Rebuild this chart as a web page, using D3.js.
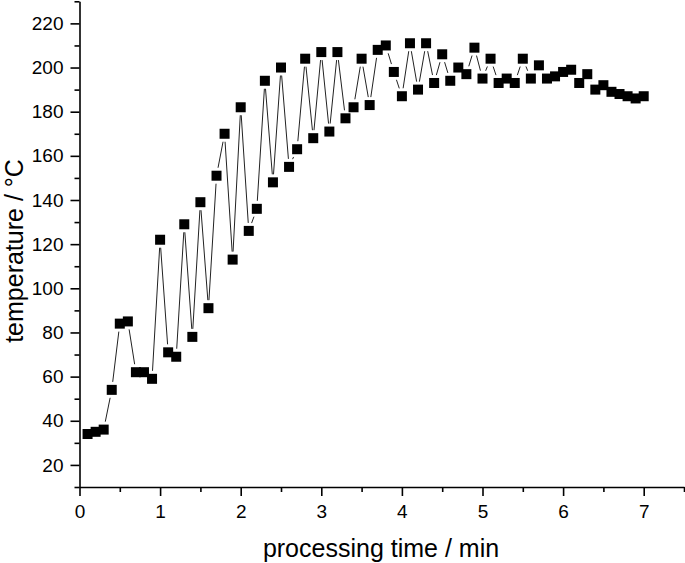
<!DOCTYPE html>
<html>
<head>
<meta charset="utf-8">
<script src="https://cdn.jsdelivr.net/npm/d3@7"></script>
<style>
  body { margin: 0; background: #fff; }
  svg { display: block; font-family: "Liberation Sans", Arial, sans-serif; }
</style>
</head>
<body>
<div id="chart"></div>
<script>
// processing time (min)
const times = [
  0.1, 0.2, 0.3, 0.4, 0.5, 0.6, 0.7, 0.8, 0.9, 1.0,
  1.1, 1.2, 1.3, 1.4, 1.5, 1.6, 1.7, 1.8, 1.9, 2.0,
  2.1, 2.2, 2.3, 2.4, 2.5, 2.6, 2.7, 2.8, 2.9, 3.0,
  3.1, 3.2, 3.3, 3.4, 3.5, 3.6, 3.7, 3.8, 3.9, 4.0,
  4.1, 4.2, 4.3, 4.4, 4.5, 4.6, 4.7, 4.8, 4.9, 5.0,
  5.1, 5.2, 5.3, 5.4, 5.5, 5.6, 5.7, 5.8, 5.9, 6.0,
  6.1, 6.2, 6.3, 6.4, 6.5, 6.6, 6.7, 6.8, 6.9, 7.0
];
// temperature (°C)
const temps = [
  34, 35, 36, 54, 84, 85, 62, 62, 59, 122,
  71, 69, 129, 78, 139, 91, 151, 170, 113, 182,
  126, 136, 194, 148, 200, 155, 163, 204, 168, 207,
  171, 207, 177, 182, 204, 183, 208, 210, 198, 187,
  211, 190, 211, 193, 206, 194, 200, 197, 209, 195,
  204, 193, 195, 193, 204, 195, 201, 195, 196, 198,
  199, 193, 197, 190, 192, 189, 188, 187, 186, 187
];
const xTicks = [0, 1, 2, 3, 4, 5, 6, 7];
const yTicks = [20, 40, 60, 80, 100, 120, 140, 160, 180, 200, 220];

const W = 685, H = 563;
const plotL = 79.5, plotR = 684, plotT = 1.3, plotB = 487;

const data = times.map((t, i) => ({ t, v: temps[i] }));

const x = d3.scaleLinear().domain([0, 7.5]).range([plotL, plotR]);
const y = d3.scaleLinear().domain([10, 230]).range([plotB, plotT]);

const svg = d3.select("#chart").append("svg")
  .attr("width", W)
  .attr("height", H);

// connecting line, broken near each marker
const segs = [];
for (let i = 1; i < data.length; i++) {
  const x1 = x(data[i - 1].t), y1 = y(data[i - 1].v);
  const x2 = x(data[i].t), y2 = y(data[i].v);
  const dx = x2 - x1, dy = y2 - y1;
  const len = Math.hypot(dx, dy);
  // distance from center to square edge along the direction, plus a small gap
  const c = Math.max(Math.abs(dx), Math.abs(dy)) / len;
  const cut = (5 / c) + 3;
  if (len > 2 * cut) {
    const ux = dx / len, uy = dy / len;
    segs.push([x1 + ux * cut, y1 + uy * cut, x2 - ux * cut, y2 - uy * cut]);
  }
}
svg.append("g")
  .selectAll("line")
  .data(segs)
  .join("line")
  .attr("x1", d => d[0]).attr("y1", d => d[1])
  .attr("x2", d => d[2]).attr("y2", d => d[3])
  .attr("stroke", "#222")
  .attr("stroke-width", 1);

// square markers
const ms = 10;
svg.append("g")
  .selectAll("rect")
  .data(data)
  .join("rect")
  .attr("x", d => x(d.t) - ms / 2)
  .attr("y", d => y(d.v) - ms / 2)
  .attr("width", ms)
  .attr("height", ms)
  .attr("fill", "#000");

// axes
const axisColor = "#000";
const xMinor = d3.range(0, 7.51, 0.5).filter(v => Math.abs(v - Math.round(v)) > 0.01);
const yMinor = d3.range(10, 231, 20);

const gx = svg.append("g").attr("transform", `translate(0,${plotB})`);
gx.call(d3.axisBottom(x).tickValues(xTicks).tickSize(9).tickSizeOuter(0).tickPadding(9).tickFormat(d3.format("d")));
gx.append("g").call(d3.axisBottom(x).tickValues(xMinor).tickSize(5).tickSizeOuter(0).tickFormat(""))
  .select(".domain").remove();

const gy = svg.append("g").attr("transform", `translate(${plotL},0)`);
gy.call(d3.axisLeft(y).tickValues(yTicks).tickSize(9).tickSizeOuter(0).tickPadding(7).tickFormat(d3.format("d")));
gy.append("g").call(d3.axisLeft(y).tickValues(yMinor).tickSize(5).tickSizeOuter(0).tickFormat(""))
  .select(".domain").remove();

svg.selectAll(".domain").attr("stroke", axisColor).attr("stroke-width", 1.6);
svg.selectAll(".tick line").attr("stroke", axisColor).attr("stroke-width", 1.6);
svg.selectAll(".tick text")
  .attr("fill", "#000")
  .style("font-size", "19px")
  .style("font-family", "'Liberation Sans', Arial, sans-serif");

// axis titles
svg.append("text")
  .attr("x", 381)
  .attr("y", 557)
  .attr("text-anchor", "middle")
  .style("font-size", "25px")
  .text("processing time / min");

svg.append("text")
  .attr("transform", `translate(23,251) rotate(-90)`)
  .attr("text-anchor", "middle")
  .style("font-size", "25px")
  .text("temperature / °C");
</script>
</body>
</html>
